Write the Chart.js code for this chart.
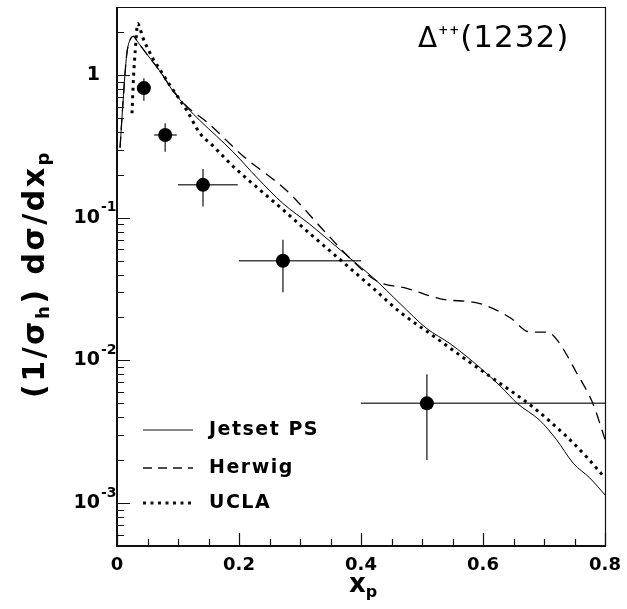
<!DOCTYPE html>
<html>
<head>
<meta charset="utf-8">
<script src="https://cdn.jsdelivr.net/npm/chart.js@4.4.0/dist/chart.umd.min.js"></script>
<style>
  body { margin: 0; background: #fff; }
  canvas { display: block; }
</style>
</head>
<body>
<canvas id="delta" width="627" height="609"></canvas>
<script>
// measured Delta++(1232) points (x_p, value, error ranges)
const ptX   = [0.044, 0.079, 0.141, 0.272, 0.508];
const ptY   = [0.81, 0.38, 0.17, 0.050, 0.0050];
const ptXlo = [0.035, 0.061, 0.100, 0.200, 0.400];
const ptXhi = [0.055, 0.098, 0.198, 0.400, 0.800];
const ptYlo = [0.66, 0.29, 0.12, 0.030, 0.0020];
const ptYhi = [0.95, 0.46, 0.22, 0.070, 0.0080];

// model curves
const jetsetX = [0.005, 0.010, 0.016, 0.023, 0.027, 0.033, 0.049, 0.070, 0.092, 0.115, 0.136, 0.19, 0.23, 0.272, 0.316, 0.35, 0.382, 0.42, 0.464, 0.508, 0.546, 0.595, 0.63, 0.656, 0.693, 0.72, 0.748, 0.775, 0.8];
const jetsetY = [0.31, 0.66, 1.40, 1.82, 1.87, 1.73, 1.40, 1.07, 0.77, 0.59, 0.48, 0.29, 0.19, 0.126, 0.090, 0.068, 0.052, 0.038, 0.025, 0.0167, 0.0131, 0.0089, 0.0065, 0.0050, 0.0038, 0.0028, 0.0019, 0.0015, 0.00114];

const herwigX = [0.005, 0.010, 0.016, 0.023, 0.027, 0.033, 0.049, 0.070, 0.092, 0.115, 0.147, 0.207, 0.278, 0.344, 0.382, 0.426, 0.475, 0.53, 0.595, 0.644, 0.677, 0.705, 0.721, 0.754, 0.78, 0.8];
const herwigY = [0.31, 0.66, 1.40, 1.82, 1.87, 1.73, 1.40, 1.07, 0.78, 0.60, 0.47, 0.27, 0.155, 0.077, 0.052, 0.036, 0.032, 0.027, 0.025, 0.020, 0.0158, 0.0158, 0.014, 0.0081, 0.0050, 0.0028];

const uclaX = [0.0246, 0.027, 0.030, 0.034, 0.038, 0.043, 0.05, 0.059, 0.07, 0.082, 0.1, 0.115, 0.136, 0.157, 0.19, 0.234, 0.272, 0.32, 0.37, 0.42, 0.464, 0.518, 0.574, 0.628, 0.682, 0.738, 0.77, 0.8];
const uclaY = [0.54, 0.95, 1.5, 2.3, 2.1, 1.8, 1.55, 1.3, 1.1, 0.91, 0.70, 0.56, 0.39, 0.32, 0.23, 0.157, 0.114, 0.075, 0.049, 0.032, 0.0218, 0.0149, 0.0100, 0.0069, 0.0047, 0.0029, 0.0021, 0.0015];

// axes
const xTicks = [0, 0.2, 0.4, 0.6, 0.8];
const xTickLabels = ['0', '0.2', '0.4', '0.6', '0.8'];
const yTicks = [1e-3, 1e-2, 1e-1, 1];
const yTickExp = ['-3', '-2', '-1', ''];

const legendNames = ['Jetset PS', 'Herwig', 'UCLA'];

const FONT = '"DejaVu Sans"';

function pts(xs, ys) {
    return xs.map((x, i) => ({ x: x, y: ys[i] }));
}

// draws pieces of text one after the other, each with own size and shift
function richText(ctx, parts, x, y, align) {
    let w = 0;
    parts.forEach(p => {
        ctx.font = p.font;
        w += ctx.measureText(p.t).width;
    });
    let cx = x;
    if (align === 'center') cx = x - w / 2;
    if (align === 'right') cx = x - w;
    ctx.textAlign = 'left';
    parts.forEach(p => {
        ctx.font = p.font;
        ctx.fillText(p.t, cx, y + (p.dy || 0));
        cx += ctx.measureText(p.t).width;
    });
}

const framePlugin = {
    id: 'frame',
    beforeDatasetsDraw(chart) {
        const ctx = chart.ctx, sx = chart.scales.x, sy = chart.scales.y;
        ctx.save();
        ctx.strokeStyle = '#444';
        ctx.lineWidth = 1.5;
        ptX.forEach((x, i) => {
            const px = sx.getPixelForValue(x), py = sy.getPixelForValue(ptY[i]);
            ctx.beginPath();
            ctx.moveTo(sx.getPixelForValue(ptXlo[i]), py);
            ctx.lineTo(sx.getPixelForValue(ptXhi[i]), py);
            ctx.moveTo(px, sy.getPixelForValue(ptYlo[i]));
            ctx.lineTo(px, sy.getPixelForValue(ptYhi[i]));
            ctx.stroke();
        });
        ctx.restore();
    },
    afterDraw(chart) {
        const ctx = chart.ctx, sx = chart.scales.x, sy = chart.scales.y;
        const a = chart.chartArea;
        ctx.save();

        // box
        ctx.strokeStyle = '#111';
        ctx.lineWidth = 1.2;
        ctx.beginPath();
        ctx.moveTo(a.left, a.top + 0.5);
        ctx.lineTo(a.right + 0.5, a.top + 0.5);
        ctx.lineTo(a.right + 0.5, a.bottom);
        ctx.stroke();
        ctx.lineWidth = 2;
        ctx.beginPath();
        ctx.moveTo(a.left, a.top);
        ctx.lineTo(a.left, a.bottom);
        ctx.lineTo(a.right + 1, a.bottom);
        ctx.stroke();

        // inward ticks
        ctx.lineWidth = 1.2;
        ctx.beginPath();
        for (let d = -4; d <= 0; d++) {
            for (let m = 1; m <= 9; m++) {
                const v = m * Math.pow(10, d);
                if (v < sy.min || v > sy.max) continue;
                const py = Math.round(sy.getPixelForValue(v)) + 0.5;
                ctx.moveTo(a.left, py);
                ctx.lineTo(a.left + (m === 1 ? 13 : 7), py);
            }
        }
        for (let k = 0; k <= 16; k++) {
            const px = Math.round(sx.getPixelForValue(k * 0.05)) + 0.5;
            ctx.moveTo(px, a.bottom);
            ctx.lineTo(px, a.bottom - (k % 4 === 0 ? 13 : 7));
        }
        ctx.stroke();

        ctx.fillStyle = '#000';

        // y tick labels
        ctx.textBaseline = 'middle';
        yTicks.forEach((v, i) => {
            const py = sy.getPixelForValue(v);
            ctx.font = 'bold 19px ' + FONT;
            ctx.textAlign = 'right';
            if (yTickExp[i] === '') {
                ctx.fillText('1', 100, py);
            } else {
                ctx.fillText('10', 100, py);
                ctx.textAlign = 'left';
                ctx.font = 'bold 14px ' + FONT;
                ctx.fillText(yTickExp[i], 101, py - 10);
            }
        });

        // x tick labels
        ctx.textAlign = 'center';
        ctx.textBaseline = 'alphabetic';
        ctx.font = 'bold 18px ' + FONT;
        xTicks.forEach((v, i) => {
            ctx.fillText(xTickLabels[i], sx.getPixelForValue(v), 570);
        });

        // axis titles
        richText(ctx, [
            { t: 'x', font: 'bold 26px ' + FONT },
            { t: 'p', font: 'bold 16px ' + FONT, dy: 5 }
        ], 363, 592, 'center');

        ctx.save();
        ctx.translate(44, 274);
        ctx.rotate(-Math.PI / 2);
        ctx.letterSpacing = '2.5px';
        const big = 'bold 30px ' + FONT, sub = 'bold 18px ' + FONT;
        richText(ctx, [
            { t: '(1/σ', font: big },
            { t: 'h', font: sub, dy: 5 },
            { t: ') dσ/dx', font: big },
            { t: 'p', font: sub, dy: 5 }
        ], 0, 0, 'center');
        ctx.restore();

        // particle label
        ctx.save();
        ctx.letterSpacing = '1px';
        richText(ctx, [
            { t: 'Δ', font: '28px ' + FONT },
            { t: '++', font: 'bold 12px ' + FONT, dy: -13 },
            { t: '(1232)', font: '31px ' + FONT }
        ], 418, 47, 'left');
        ctx.restore();

        // legend
        const styles = [[], [9, 6], [3, 4.5]];
        const widths = [1, 1.3, 3];
        const ly = [430, 468, 503];
        ctx.save();
        ctx.letterSpacing = '1.5px';
        legendNames.forEach((name, i) => {
            ctx.beginPath();
            ctx.setLineDash(styles[i]);
            ctx.lineWidth = widths[i];
            ctx.moveTo(143, ly[i]);
            ctx.lineTo(193, ly[i]);
            ctx.stroke();
            ctx.setLineDash([]);
            ctx.font = 'bold 19px ' + FONT;
            ctx.textBaseline = 'middle';
            ctx.textAlign = 'left';
            ctx.fillText(name, 209, ly[i]);
        });
        ctx.restore();

        ctx.restore();
    }
};

const curveBase = {
    type: 'line',
    showLine: true,
    pointRadius: 0,
    borderColor: '#000',
    fill: false,
    cubicInterpolationMode: 'monotone'
};

new Chart(document.getElementById('delta'), {
    type: 'scatter',
    data: {
        datasets: [
            Object.assign({}, curveBase, { label: 'Jetset PS', data: pts(jetsetX, jetsetY), borderWidth: 1 }),
            Object.assign({}, curveBase, { label: 'Herwig', data: pts(herwigX, herwigY), borderWidth: 1.3, borderDash: [11, 7] }),
            Object.assign({}, curveBase, { label: 'UCLA', data: pts(uclaX, uclaY), borderWidth: 3, borderDash: [3, 4.5] }),
            {
                label: 'data',
                data: pts(ptX, ptY),
                pointRadius: 7,
                pointBackgroundColor: '#000',
                pointBorderColor: '#000',
                pointBorderWidth: 0
            }
        ]
    },
    options: {
        responsive: false,
        animation: false,
        layout: { padding: { left: 117, right: 22, top: 7, bottom: 63 } },
        scales: {
            x: { type: 'linear', min: 0, max: 0.8, display: false },
            y: { type: 'logarithmic', min: 5e-4, max: 3, display: false }
        },
        plugins: {
            legend: { display: false },
            tooltip: { enabled: false }
        }
    },
    plugins: [framePlugin]
});
</script>
</body>
</html>
